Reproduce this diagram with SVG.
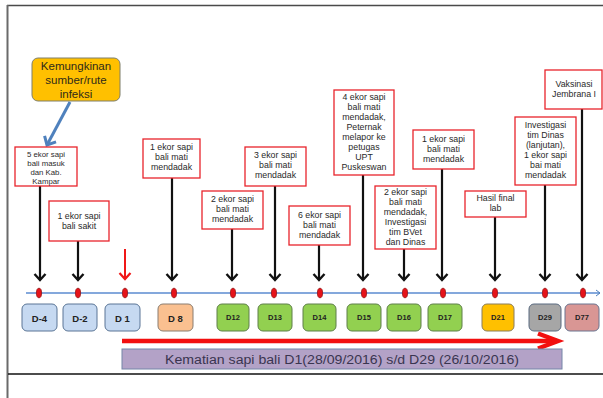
<svg xmlns="http://www.w3.org/2000/svg" width="603" height="398" viewBox="0 0 603 398">
<style>
.cb{fill:#fff;stroke:#e8242b;stroke-width:1.3}
.ct{font-family:"Liberation Sans",Arial,sans-serif;font-size:8.8px;fill:#2a2a2a;text-anchor:middle}
.ct1{font-size:7.8px}
.sh{stroke:#111;stroke-width:2.2;fill:none}
.dot{fill:#e5131a;stroke:#8a0b0b;stroke-width:0.7}
.db{stroke-width:1}
.dl{font-family:"Liberation Sans",Arial,sans-serif;font-weight:bold;fill:#222;text-anchor:middle}
.big{font-size:9.5px}
.sm{font-size:7.5px}
</style>
<defs>
<marker id="ah" markerUnits="userSpaceOnUse" markerWidth="16" markerHeight="16" refX="0" refY="0" viewBox="-8 -8 16 16" orient="auto" overflow="visible">
<path d="M-6,-5.5 L0,0 L-6,5.5" fill="none" stroke="#111" stroke-width="2.4"/>
</marker>
<marker id="ahr" markerUnits="userSpaceOnUse" markerWidth="16" markerHeight="16" refX="0" refY="0" viewBox="-8 -8 16 16" orient="auto" overflow="visible">
<path d="M-6,-5.5 L0,0 L-6,5.5" fill="none" stroke="#f01818" stroke-width="2.2"/>
</marker>
<marker id="ahb" markerUnits="userSpaceOnUse" markerWidth="18" markerHeight="18" refX="0" refY="0" viewBox="-9 -9 18 18" orient="auto" overflow="visible">
<path d="M-7,-6.5 L0,0 L-7,6.5" fill="none" stroke="#4f81bd" stroke-width="3"/>
</marker>
<marker id="aht" markerUnits="userSpaceOnUse" markerWidth="10" markerHeight="10" refX="0" refY="0" viewBox="-5 -5 10 10" orient="auto" overflow="visible">
<path d="M-4,-3 L0,0 L-4,3" fill="none" stroke="#4f81bd" stroke-width="1"/>
</marker>
</defs>
<rect width="603" height="398" fill="#fff"/>
<g id="frame">
<line x1="7" y1="5.5" x2="603" y2="5.5" stroke="#4a4a4a" stroke-width="1.5"/>
<line x1="7.5" y1="5" x2="7.5" y2="398" stroke="#6a6a6a" stroke-width="2"/>
<line x1="8" y1="374" x2="603" y2="374" stroke="#111" stroke-width="1.5"/>
</g>
<g id="connectors">
<line x1="26" y1="293" x2="600" y2="293" stroke="#5b8bd0" stroke-width="1.5" marker-end="url(#aht)"/>
<line x1="70" y1="102" x2="47" y2="145" stroke="#4f81bd" stroke-width="3" marker-end="url(#ahb)"/>
<line class="sh" x1="40" y1="186" x2="40" y2="280" marker-end="url(#ah)"/>
<line class="sh" x1="78" y1="241" x2="78" y2="280" marker-end="url(#ah)"/>
<line x1="125" y1="249" x2="125" y2="279" stroke="#f01818" stroke-width="2" marker-end="url(#ahr)"/>
<line class="sh" x1="172" y1="178" x2="172" y2="280" marker-end="url(#ah)"/>
<line class="sh" x1="232" y1="229" x2="232" y2="280" marker-end="url(#ah)"/>
<line class="sh" x1="275" y1="186" x2="275" y2="280" marker-end="url(#ah)"/>
<line class="sh" x1="319" y1="245" x2="319" y2="280" marker-end="url(#ah)"/>
<line class="sh" x1="363" y1="175" x2="363" y2="280" marker-end="url(#ah)"/>
<line class="sh" x1="404" y1="249" x2="404" y2="280" marker-end="url(#ah)"/>
<line class="sh" x1="442" y1="169" x2="442" y2="280" marker-end="url(#ah)"/>
<line class="sh" x1="495" y1="217" x2="495" y2="280" marker-end="url(#ah)"/>
<line class="sh" x1="545" y1="185" x2="545" y2="280" marker-end="url(#ah)"/>
<line class="sh" x1="582" y1="109" x2="582" y2="280" marker-end="url(#ah)"/>
<line x1="122" y1="341" x2="557" y2="341" stroke="#f20f0f" stroke-width="4.5"/>
<path d="M538,333.5 L558,341 L538,348.5" fill="none" stroke="#f20f0f" stroke-width="4.5"/>
</g>
<g id="dots">
<ellipse class="dot" cx="39" cy="293" rx="2.6" ry="4.8"/>
<ellipse class="dot" cx="78" cy="293" rx="2.6" ry="4.8"/>
<ellipse class="dot" cx="125" cy="293" rx="2.6" ry="4.8"/>
<ellipse class="dot" cx="174" cy="293" rx="2.6" ry="4.8"/>
<ellipse class="dot" cx="233" cy="293" rx="2.6" ry="4.8"/>
<ellipse class="dot" cx="274" cy="293" rx="2.6" ry="4.8"/>
<ellipse class="dot" cx="320" cy="293" rx="2.6" ry="4.8"/>
<ellipse class="dot" cx="364" cy="293" rx="2.6" ry="4.8"/>
<ellipse class="dot" cx="405" cy="293" rx="2.6" ry="4.8"/>
<ellipse class="dot" cx="443" cy="293" rx="2.6" ry="4.8"/>
<ellipse class="dot" cx="495" cy="293" rx="2.6" ry="4.8"/>
<ellipse class="dot" cx="545" cy="293" rx="2.6" ry="4.8"/>
<ellipse class="dot" cx="583" cy="293" rx="2.6" ry="4.8"/>
</g>
<g id="source">
<rect x="32" y="58" width="88" height="43" rx="6" fill="#ffc000" stroke="#7f7f6a" stroke-width="1"/>
<text font-family="'Liberation Sans',Arial,sans-serif" font-size="11.5" fill="#2e2a1a" text-anchor="middle"><tspan x="76" y="70">Kemungkinan</tspan><tspan x="76" y="84">sumber/rute</tspan><tspan x="76" y="98">infeksi</tspan></text>
</g>
<g id="n1"><rect class="cb" x="15" y="147" width="62" height="39"/><text class="ct ct1"><tspan x="46" y="156.5">5 ekor sapi</tspan><tspan x="46" y="165.5">bali masuk</tspan><tspan x="46" y="174.5">dan Kab.</tspan><tspan x="46" y="183.5">Kampar</tspan></text></g>
<g id="n2"><rect class="cb" x="49" y="201" width="60" height="40"/><text class="ct"><tspan x="79" y="219">1 ekor sapi</tspan><tspan x="79" y="229">bali sakit</tspan></text></g>
<g id="n3"><rect class="cb" x="143" y="139" width="57" height="39"/><text class="ct"><tspan x="171.5" y="150">1 ekor sapi</tspan><tspan x="171.5" y="160">bali mati</tspan><tspan x="171.5" y="170">mendadak</tspan></text></g>
<g id="n4"><rect class="cb" x="202" y="191" width="61" height="38"/><text class="ct"><tspan x="232.5" y="202">2 ekor sapi</tspan><tspan x="232.5" y="212">bali mati</tspan><tspan x="232.5" y="222">mendadak</tspan></text></g>
<g id="n5"><rect class="cb" x="245" y="147" width="61" height="39"/><text class="ct"><tspan x="275.5" y="158">3 ekor sapi</tspan><tspan x="275.5" y="168">bali mati</tspan><tspan x="275.5" y="178">mendadak</tspan></text></g>
<g id="n6"><rect class="cb" x="289" y="206" width="61" height="39"/><text class="ct"><tspan x="319.5" y="218">6 ekor sapi</tspan><tspan x="319.5" y="228">bali mati</tspan><tspan x="319.5" y="238">mendadak</tspan></text></g>
<g id="n7"><rect class="cb" x="334" y="90" width="60" height="85"/><text class="ct"><tspan x="364" y="100">4 ekor sapi</tspan><tspan x="364" y="110">bali mati</tspan><tspan x="364" y="120">mendadak,</tspan><tspan x="364" y="130">Peternak</tspan><tspan x="364" y="140">melapor ke</tspan><tspan x="364" y="150">petugas</tspan><tspan x="364" y="160">UPT</tspan><tspan x="364" y="170">Puskeswan</tspan></text></g>
<g id="n8"><rect class="cb" x="375" y="186" width="61" height="63"/><text class="ct"><tspan x="405.5" y="195">2 ekor sapi</tspan><tspan x="405.5" y="205">bali mati</tspan><tspan x="405.5" y="215">mendadak,</tspan><tspan x="405.5" y="225">Investigasi</tspan><tspan x="405.5" y="235">tim BVet</tspan><tspan x="405.5" y="245">dan Dinas</tspan></text></g>
<g id="n9"><rect class="cb" x="413" y="130" width="61" height="39"/><text class="ct"><tspan x="443.5" y="142">1 ekor sapi</tspan><tspan x="443.5" y="152">bali mati</tspan><tspan x="443.5" y="162">mendadak</tspan></text></g>
<g id="n10"><rect class="cb" x="465" y="191" width="61" height="26"/><text class="ct"><tspan x="495.5" y="200.5">Hasil final</tspan><tspan x="495.5" y="210.5">lab</tspan></text></g>
<g id="n11"><rect class="cb" x="515" y="117" width="61" height="68"/><text class="ct"><tspan x="545.5" y="128">Investigasi</tspan><tspan x="545.5" y="138">tim Dinas</tspan><tspan x="545.5" y="148">(lanjutan),</tspan><tspan x="545.5" y="158">1 ekor sapi</tspan><tspan x="545.5" y="168">bai mati</tspan><tspan x="545.5" y="178">mendadak</tspan></text></g>
<g id="n12"><rect class="cb" x="545" y="70" width="57" height="39"/><text class="ct"><tspan x="574" y="87">Vaksinasi</tspan><tspan x="574" y="97">Jembrana I</tspan></text></g>
<g id="days">
<g id="d-4"><rect x="22" y="304" width="35" height="27" rx="5" fill="#c6d9f1" stroke="#5a7596" class="db"/><text class="dl big" x="39.5" y="321.5">D-4</text></g>
<g id="d-2"><rect x="63" y="304" width="34" height="27" rx="5" fill="#c6d9f1" stroke="#5a7596" class="db"/><text class="dl big" x="80" y="321.5">D-2</text></g>
<g id="d1"><rect x="105" y="304" width="35" height="27" rx="5" fill="#c6d9f1" stroke="#5a7596" class="db"/><text class="dl big" x="122.5" y="321.5">D 1</text></g>
<g id="d8"><rect x="158" y="304" width="35" height="27" rx="5" fill="#fac090" stroke="#8a7d70" class="db"/><text class="dl big" x="175.5" y="321.5">D 8</text></g>
<g id="d12"><rect x="217" y="304" width="32" height="27" rx="5" fill="#92d050" stroke="#5f7f4a" class="db"/><text class="dl sm" x="233" y="320">D12</text></g>
<g id="d13"><rect x="258" y="304" width="34" height="27" rx="5" fill="#92d050" stroke="#5f7f4a" class="db"/><text class="dl sm" x="275" y="320">D13</text></g>
<g id="d14"><rect x="303" y="304" width="33" height="27" rx="5" fill="#92d050" stroke="#5f7f4a" class="db"/><text class="dl sm" x="319.5" y="320">D14</text></g>
<g id="d15"><rect x="347" y="304" width="34" height="27" rx="5" fill="#92d050" stroke="#5f7f4a" class="db"/><text class="dl sm" x="364" y="320">D15</text></g>
<g id="d16"><rect x="387" y="304" width="34" height="27" rx="5" fill="#92d050" stroke="#5f7f4a" class="db"/><text class="dl sm" x="404" y="320">D16</text></g>
<g id="d17"><rect x="428" y="304" width="34" height="27" rx="5" fill="#92d050" stroke="#5f7f4a" class="db"/><text class="dl sm" x="445" y="320">D17</text></g>
<g id="d21"><rect x="482" y="304" width="32" height="27" rx="5" fill="#ffc000" stroke="#8a7d5a" class="db"/><text class="dl sm" x="498" y="320">D21</text></g>
<g id="d29"><rect x="529" y="304" width="32" height="27" rx="5" fill="#a6a6a6" stroke="#5a6a80" class="db"/><text class="dl sm" x="545" y="320">D29</text></g>
<g id="d77"><rect x="565" y="304" width="34" height="27" rx="5" fill="#d99694" stroke="#6a7590" class="db"/><text class="dl sm" x="582" y="320">D77</text></g>
</g>
<g id="period">
<rect x="122" y="349" width="440" height="20" fill="#b3a2c7" stroke="#7586a8" stroke-width="1"/>
<text x="342" y="363.5" font-family="'Liberation Sans',Arial,sans-serif" font-size="12.5" fill="#3a3550" text-anchor="middle" textLength="354" lengthAdjust="spacingAndGlyphs">Kematian sapi bali D1(28/09/2016) s/d D29 (26/10/2016)</text>
</g>
</svg>
